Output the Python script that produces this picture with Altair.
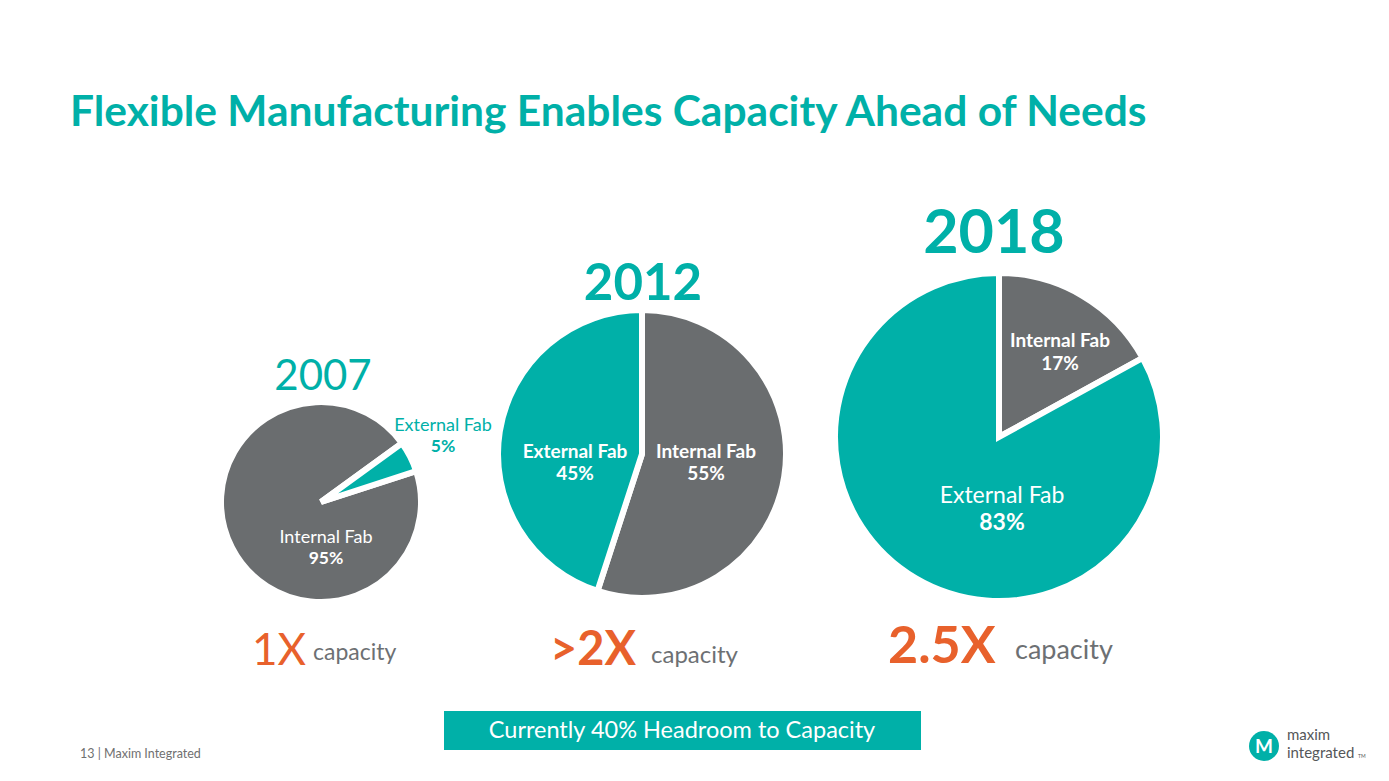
import math
import altair as alt
import pandas as pd

# ---------------- data ----------------
years = ["2007", "2012", "2018"]
internal_share = [95, 55, 17]
external_share = [5, 45, 83]
segment_names = ["Internal Fab", "External Fab"]
capacity_multiple = ["1X", ">2X", "2.5X"]
capacity_word = "capacity"
title_text = "Flexible Manufacturing Enables Capacity Ahead of Needs"
banner_text = "Currently 40% Headroom to Capacity"
footer_text = "13  |  Maxim Integrated"

# ---------------- style / layout ----------------
TEAL = "#00B0A8"
GRAY = "#6A6D6F"
ORANGE = "#E8612C"
TXT_GRAY = "#6D7073"
FONT = "Lato"

W, H = 1373, 765
# pie layout: centre x, centre y, radius, start angle (deg), first segment
pie_layout = [
    dict(cx=313, cy=494, r=97, start=54, first="External Fab"),
    dict(cx=634, cy=446, r=141, start=0, first="Internal Fab"),
    dict(cx=991, cy=429, r=161, start=0, first="Internal Fab"),
]
year_layout = [
    dict(x=315, y=382, size=42, weight="normal"),
    dict(x=635, y=292, size=51, weight="bold"),
    dict(x=986, y=245, size=61, weight="bold"),
]

color_scale = alt.Scale(domain=segment_names, range=[GRAY, TEAL])

layers = []

# pies
for i, lay in enumerate(pie_layout):
    order = [0 if n == lay["first"] else 1 for n in segment_names]
    df = pd.DataFrame({
        "segment": segment_names,
        "value": [internal_share[i], external_share[i]],
        "order": order,
    })
    s = math.radians(lay["start"])
    pie = alt.Chart(df).mark_arc(
        radius=lay["r"] + 3, stroke="white", strokeWidth=6
    ).encode(
        theta=alt.Theta("value:Q", stack=True,
                        scale=alt.Scale(range=[s, s + 2 * math.pi])),
        color=alt.Color("segment:N", scale=color_scale, legend=None),
        order=alt.Order("order:Q"),
        x=alt.value(lay["cx"]),
        y=alt.value(lay["cy"]),
    )
    layers.append(pie)


def text_layer(txt, x, y, size, color, weight="normal", align="center",
               baseline="alphabetic", font=FONT):
    return alt.Chart(pd.DataFrame({"t": [txt]})).mark_text(
        font=font, fontSize=size, fontWeight=weight, color=color,
        align=align, baseline=baseline,
    ).encode(text="t:N", x=alt.value(x), y=alt.value(y))


# title
layers.append(text_layer(title_text, 62, 118, 42.5, TEAL, "bold", align="left"))

# years
for i, lay in enumerate(year_layout):
    layers.append(text_layer(years[i], lay["x"], lay["y"], lay["size"], TEAL, lay["weight"]))

# slice labels: (text, x, y, size, color, weight)
pct = lambda v: f"{v}%"
slice_labels = [
    ("External Fab", 435, 423, 18, TEAL, "normal"),
    (pct(external_share[0]), 435, 444, 17.5, TEAL, "bold"),
    ("Internal Fab", 318, 535, 18, "white", "normal"),
    (pct(internal_share[0]), 318, 556, 17.5, "white", "bold"),
    ("External Fab", 567, 450, 19, "white", "bold"),
    (pct(external_share[1]), 567, 472, 19, "white", "bold"),
    ("Internal Fab", 698, 450, 19, "white", "bold"),
    (pct(internal_share[1]), 698, 472, 19, "white", "bold"),
    ("Internal Fab", 1052, 339, 19, "white", "bold"),
    (pct(internal_share[2]), 1052, 362, 19, "white", "bold"),
    ("External Fab", 994, 495, 23, "white", "normal"),
    (pct(external_share[2]), 994, 522, 23, "white", "bold"),
]
for t, x, y, sz, c, w in slice_labels:
    layers.append(text_layer(t, x, y, sz, c, w))

# capacity row
cap_layout = [
    dict(x=244, y=657, size=44, weight="normal", wx=305, wy=652, wsize=23),
    dict(x=542, y=657, size=47, weight="bold", wx=643, wy=655, wsize=24),
    dict(x=880, y=655, size=52, weight="bold", wx=1007, wy=651, wsize=27),
]
for i, lay in enumerate(cap_layout):
    layers.append(text_layer(capacity_multiple[i], lay["x"], lay["y"], lay["size"],
                             ORANGE, lay["weight"], align="left"))
    layers.append(text_layer(capacity_word, lay["wx"], lay["wy"], lay["wsize"], TXT_GRAY,
                             "normal", align="left"))

# banner
banner = alt.Chart(pd.DataFrame({"t": [banner_text]})).mark_rect(color=TEAL).encode(
    x=alt.value(436), x2=alt.value(913), y=alt.value(703), y2=alt.value(742)
)
layers.append(banner)
layers.append(text_layer(banner_text, 674, 723, 23.5, "white", baseline="middle"))

# footer
layers.append(text_layer(footer_text, 72, 750, 12.5, "#707070", align="left"))

# logo
logo = alt.Chart(pd.DataFrame({"t": ["M"]})).mark_circle(
    color=TEAL, opacity=1, size=900
).encode(x=alt.value(1256), y=alt.value(738))
layers.append(logo)
layers.append(text_layer("M", 1256, 739, 19, "white", "bold", baseline="middle"))
layers.append(text_layer("maxim", 1279, 732, 15, "#555759", align="left"))
layers.append(text_layer("integrated", 1279, 750, 15, "#555759", align="left"))
layers.append(text_layer("TM", 1350, 750, 5, "#555759", align="left"))

chart = alt.layer(*layers).resolve_scale(theta="independent").properties(
    width=W, height=H, padding=0, background="white",
    autosize=alt.AutoSizeParams(type="none")
).configure_view(stroke=None)

chart.save("out.html", embed_options={"renderer": "svg", "actions": False})
